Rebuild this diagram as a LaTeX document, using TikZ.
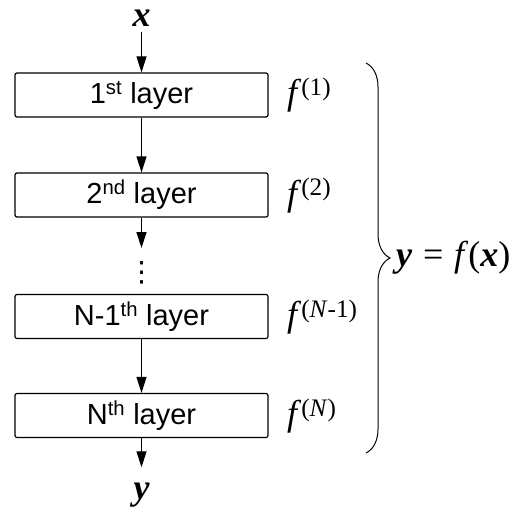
\documentclass[tikz,border=0pt]{standalone}
\usepackage{fontspec}
\setmainfont{Liberation Serif}
\newfontfamily\arialfont{Liberation Sans}
\newfontfamily\symbolfont{DejaVu Sans}
\usetikzlibrary{arrows.meta,decorations.pathreplacing}

\begin{document}
\begin{tikzpicture}[x=1pt, y=-1pt,
    layerBox/.style={draw, rounded corners=2pt, line width=1.2pt, minimum width=253pt, minimum height=44pt, inner sep=0pt, font=\arialfont\fontsize{29}{32}\selectfont},
    flow/.style={line width=1.2pt, -{Triangle[length=16pt,width=10pt]}},
    fLabel/.style={anchor=base west, inner sep=0pt, font=\fontsize{36}{40}\selectfont},
    vecLabel/.style={inner sep=0pt, font=\fontsize{36}{40}\selectfont\bfseries\itshape}]
    \def\midX{141.5}

    % Page size
    \useasboundingbox (0,0) rectangle (516,508);

    % Input, layers and output
    \node[vecLabel, anchor=base] (x) at (\midX,27) {x};
    \node[layerBox] (layer1) at (\midX,95) {1\textsuperscript{st} layer};
    \node[layerBox] (layer2) at (\midX,195) {2\textsuperscript{nd} layer};
    \node[inner sep=0pt, font=\symbolfont\fontsize{28}{28}\selectfont] (dots) at (\midX,273) {⋮};
    \coordinate (dotsTop) at (\midX,248);
    \node[layerBox] (layerNm1) at (\midX,316.5) {N-1\textsuperscript{th} layer};
    \node[layerBox] (layerN) at (\midX,415.5) {N\textsuperscript{th} layer};
    \node[vecLabel, anchor=base] (y) at (\midX,499) {y};

    % Arrows
    \draw[flow, shorten <=5pt] (x) -- (layer1);
    \draw[flow] (layer1) -- (layer2);
    \draw[flow] (layer2) -- (dotsTop);
    \draw[flow] (layerNm1) -- (layerN);
    \draw[flow, shorten >=15pt] (layerN) -- (y);

    % Layer functions
    \node[fLabel] (f1) at (287,105) {\textit{f}\textsuperscript{(1)}};
    \node[fLabel] (f2) at (287,205) {\textit{f}\textsuperscript{(2)}};
    \node[fLabel] (fNm1) at (287,326.5) {\textit{f}\textsuperscript{(\textit{N}-1)}};
    \node[fLabel] (fN) at (287,425.5) {\textit{f}\textsuperscript{(\textit{N})}};

    % Brace and whole network
    \coordinate (braceTop) at (366,63);
    \coordinate (braceBot) at (366,453);
    \draw[line width=1pt, decorate, decoration={brace, amplitude=24pt}] (braceTop) -- (braceBot);
    \node[fLabel] (net) at (396,266) {\textbf{\textit{y}}\hspace{0.3em}=\hspace{0.3em}\textit{f}(\textbf{\textit{x}})};
\end{tikzpicture}
\end{document}
